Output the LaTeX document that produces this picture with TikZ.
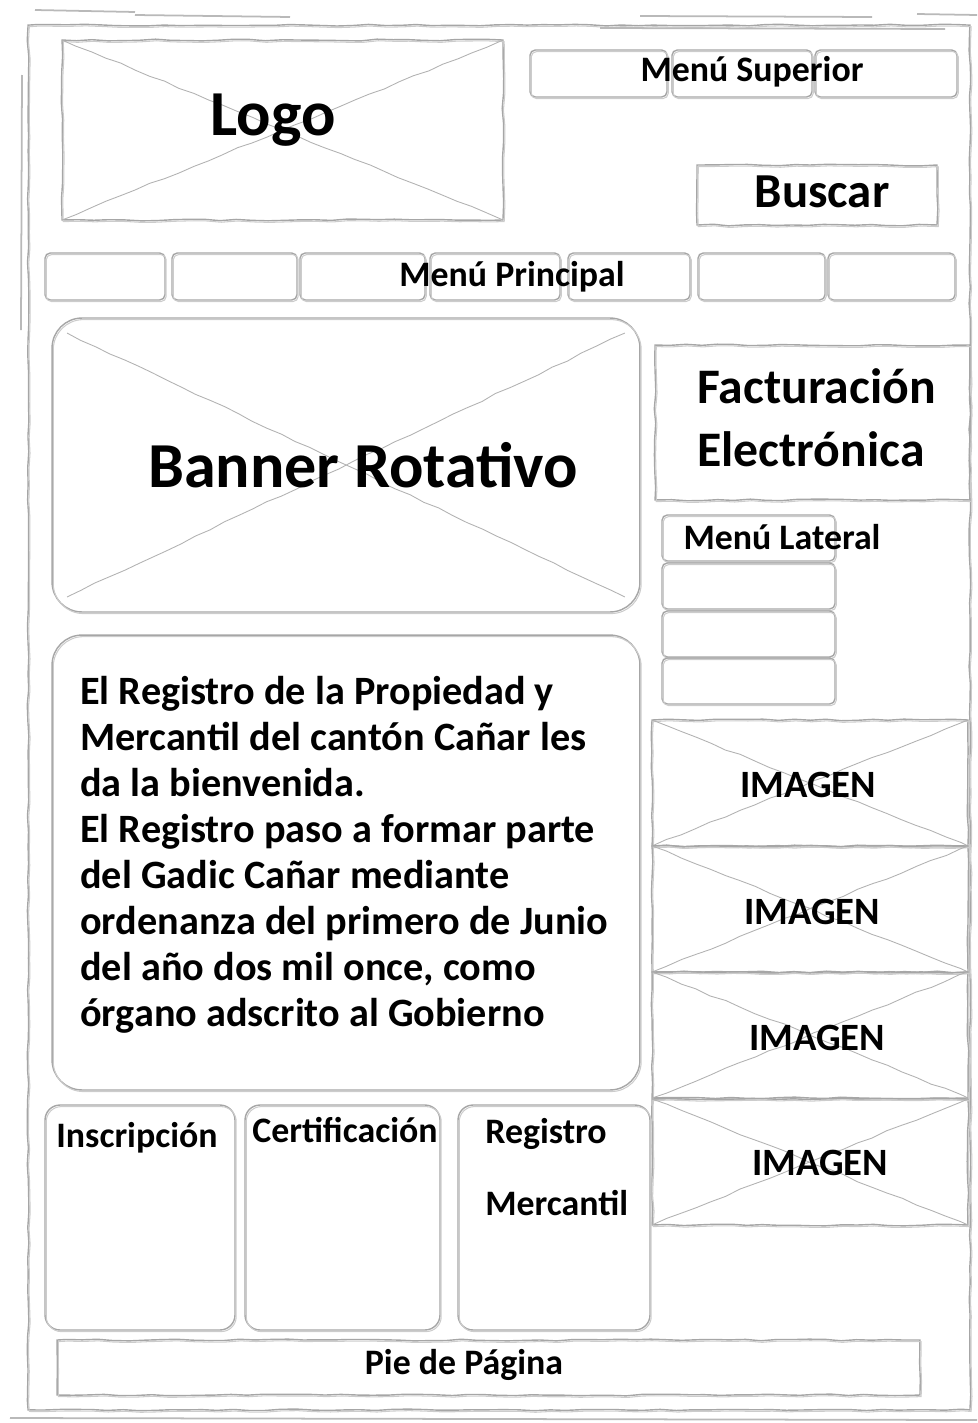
\documentclass[tikz,border=0pt]{standalone}
\usepackage{fontspec}
\setmainfont{Carlito}
\usetikzlibrary{positioning,decorations.pathmorphing}

\begin{document}
\begin{tikzpicture}[x=0.02cm, y=-0.02cm,
    sketchy/.style={decorate, decoration={random steps, segment length=9pt, amplitude=0.5pt}},
    box/.style={draw=gray!70, line width=0.8pt, sketchy, inner sep=0pt, outer sep=0pt,
                postaction={draw=gray!40, line width=0.6pt, transform canvas={shift={(0.7pt,-0.9pt)}}}},
    rbox/.style={draw=gray!70, line width=0.8pt, rounded corners=#1, inner sep=0pt, outer sep=0pt,
                postaction={draw=gray!40, line width=0.6pt, transform canvas={shift={(0.7pt,-0.9pt)}}}},
    xline/.style={draw=gray!60, line width=0.5pt, sketchy},
    stroke/.style={draw=gray!55, line width=1pt},
    lbl/.style={font=\bfseries\fontsize{20.4}{24}\selectfont, inner sep=0pt},
    bigtxt/.style={font=\bfseries\fontsize{36.5}{40}\selectfont, inner sep=0pt},
    imgtxt/.style={font=\bfseries\fontsize{22}{26}\selectfont, inner sep=0pt}
]
\useasboundingbox (0,0) rectangle (977,1423);

% Page frame and loose strokes
\node[box, minimum width=18.84cm, minimum height=27.7cm] (page) at (499,717.5) {};
\draw[stroke] (35,10) -- (135,12);
\draw[stroke] (135,15) -- (290,17);
\draw[stroke] (640,16) -- (872,17);
\draw[stroke] (917,14) -- (977,15);
\draw[stroke] (600,28) -- (945,29);
\draw[stroke] (22,75) -- (21,330);
\draw[stroke] (10,1418) -- (977,1420);

% Header: logo, top menu, search
\node[box, minimum width=8.82cm, minimum height=3.6cm] (logo) at (282.5,130) {};
\draw[xline] (logo.north west) -- (logo.south east) (logo.south west) -- (logo.north east);
\node[bigtxt] (logotxt) at (273,120) {Logo};

\foreach \cx/\w [count=\i] in {598.5/2.74, 742/2.8, 886/2.84}
  \node[rbox=3pt, minimum width=\w cm, minimum height=0.94cm] (sup\i) at (\cx,73.5) {};
\node[lbl] (suptxt) at (752,72) {Menú Superior};

\node[box, minimum width=4.8cm, minimum height=1.2cm] (buscar) at (817,195) {};
\node[font=\bfseries\fontsize{27.8}{32}\selectfont, inner sep=0pt] (buscartxt) at (822,192) {Buscar};

% Main menu
\foreach \cx/\w [count=\i] in {105/2.4, 234.5/2.5, 362.5/2.5, 495/2.6, 629/2.44, 761.5/2.54, 891.5/2.54}
  \node[rbox=3pt, minimum width=\w cm, minimum height=0.94cm] (prin\i) at (\cx,276.5) {};
\node[lbl] (printxt) at (512,277) {Menú Principal};

% Banner
\node[rbox=0.6cm, minimum width=11.76cm, minimum height=5.88cm] (banner) at (346,465) {};
\draw[xline] ([shift={(0.3cm,-0.3cm)}]banner.north west) -- ([shift={(-0.3cm,0.3cm)}]banner.south east)
             ([shift={(0.3cm,0.3cm)}]banner.south west) -- ([shift={(-0.3cm,-0.3cm)}]banner.north east);
\node[bigtxt] (bannertxt) at (363,465) {Banner Rotativo};

% Right column
\node[box, minimum width=6.3cm, minimum height=3.1cm] (fact) at (812.5,422.5) {};
\node[font=\bfseries\fontsize{28.3}{35.7}\selectfont, inner sep=0pt, align=left, anchor=west]
  (facttxt) at (697,418) {Facturación\\Electrónica};

\foreach \cy [count=\i] in {538, 586, 634, 681}
  \node[rbox=3pt, minimum width=3.46cm, minimum height=0.92cm] (lat\i) at (748.5,\cy) {};
\node[lbl] (lattxt) at (782,537) {Menú Lateral};

\foreach \cy/\tx/\ty [count=\i] in {783/808/785, 909/812/912, 1035/817/1038, 1162/820/1163} {
  \node[box, minimum width=6.32cm, minimum height=2.52cm] (img\i) at (810,\cy) {};
  \draw[xline] (img\i.north west) -- (img\i.south east) (img\i.south west) -- (img\i.north east);
  \node[imgtxt] (imgtxt\i) at (\tx,\ty) {IMAGEN};
}

% Welcome text
\node[rbox=0.6cm, minimum width=11.76cm, minimum height=9.1cm] (welcome) at (346,862.5) {};
\node[font=\bfseries\fontsize{22.9}{26.2}\selectfont, inner sep=0pt, align=left, anchor=west]
  (welcometxt) at (80,855) {El Registro de la Propiedad y\\
  Mercantil del cantón Cañar les\\
  da la bienvenida.\\
  El Registro paso a formar parte\\
  del Gadic Cañar mediante\\
  ordenanza del primero de Junio\\
  del año dos mil once, como\\
  órgano adscrito al Gobierno};

% Service boxes
\node[rbox=0.3cm, minimum width=3.8cm, minimum height=4.5cm] (insc) at (140,1217.5) {};
\node[rbox=0.3cm, minimum width=3.9cm, minimum height=4.5cm] (cert) at (342.5,1217.5) {};
\node[rbox=0.3cm, minimum width=3.84cm, minimum height=4.5cm] (merc) at (554,1217.5) {};
\node[lbl] (insctxt) at (137,1138) {Inscripción};
\node[lbl] (certtxt) at (345,1130) {Certificación};
\node[font=\bfseries\fontsize{20.4}{40.8}\selectfont, inner sep=0pt, align=left, anchor=west]
  (merctxt) at (485,1167) {Registro\\Mercantil};

% Footer
\node[box, minimum width=17.26cm, minimum height=1.1cm] (pie) at (488.5,1367.5) {};
\node[lbl] (pietxt) at (464,1365) {Pie de Página};

\end{tikzpicture}
\end{document}
